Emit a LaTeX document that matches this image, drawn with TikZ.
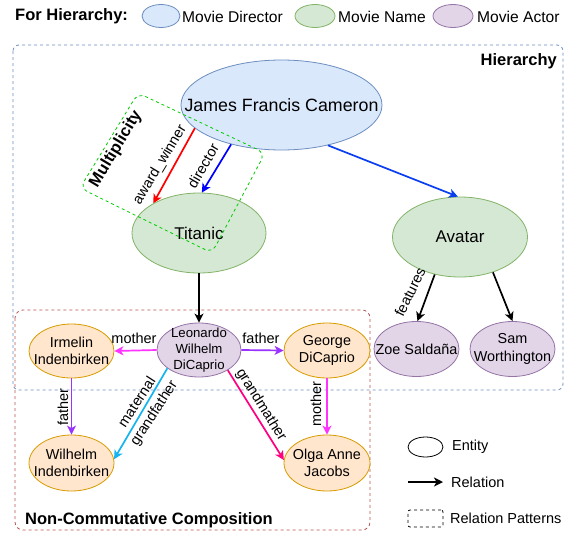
\documentclass[tikz,border=0pt]{standalone}
\usepackage{fontspec}
\setmainfont{Liberation Sans}
\usetikzlibrary{shapes.geometric,arrows.meta}
\definecolor{dirfill}{HTML}{DAE8FC}
\definecolor{dirline}{HTML}{6C8EBF}
\definecolor{movfill}{HTML}{D5E8D4}
\definecolor{movline}{HTML}{82B366}
\definecolor{actfill}{HTML}{E1D5E7}
\definecolor{actline}{HTML}{9673A6}
\definecolor{perfill}{HTML}{FFE6CC}
\definecolor{perline}{HTML}{D79B00}
\definecolor{hierline}{HTML}{6C8EBF}
\definecolor{ncline}{HTML}{B85450}
\definecolor{multline}{HTML}{00CC00}
\definecolor{redarr}{HTML}{FF0000}
\definecolor{dirblue}{HTML}{0000FF}
\definecolor{avblue}{HTML}{0A3FF0}
\definecolor{magarr}{HTML}{FF33FF}
\definecolor{purparr}{HTML}{9933FF}
\definecolor{cyanarr}{HTML}{14B4F0}
\definecolor{pinkarr}{HTML}{FF0080}
\begin{document}
\begin{tikzpicture}[x=1pt,y=-1pt,
  ent/.style={ellipse,inner sep=0pt,line width=0.8pt},
  director/.style={ent,fill=dirfill,draw=dirline},
  movie/.style={ent,fill=movfill,draw=movline},
  actor/.style={ent,fill=actfill,draw=actline},
  person/.style={ent,fill=perfill,draw=perline},
  rel/.style={line width=1.7pt,-{Stealth[length=9pt,width=9pt,inset=2.5pt]}},
  lbl/.style={inner sep=0pt,font=\fontsize{14.5}{17}\selectfont},
  leg/.style={inner sep=0pt,font=\fontsize{15.6}{18}\selectfont,anchor=west},
  ttl/.style={inner sep=0pt,font=\bfseries\fontsize{16.5}{19}\selectfont},
  patt/.style={dash pattern=on 3pt off 3pt,line width=0.8pt},
]
\useasboundingbox (0,0) rectangle (576,533);

% pattern boxes
\draw[patt,hierline,rounded corners=6pt] (13,45) rectangle (563,390);
\draw[patt,ncline,rounded corners=8pt] (15,310) rectangle (370,530);
\node[ttl,anchor=east] (hiertitle) at (557,61) {Hierarchy};
\node[ttl,anchor=west] (nctitle) at (25,520.5) {Non-Commutative Composition};

% top legend
\node[ttl,anchor=west] (forh) at (15,16.5) {For Hierarchy:};
\node[director,minimum width=38pt,minimum height=23pt] (legdir) at (161,16) {};
\node[leg] (legdirt) at (182,16.5) {Movie Director};
\node[movie,minimum width=40pt,minimum height=23pt] (legmov) at (315,16) {};
\node[leg] (legmovt) at (338,16.5) {Movie Name};
\node[actor,minimum width=40pt,minimum height=23pt] (legact) at (453,16) {};
\node[leg] (legactt) at (477,16.5) {Movie Actor};

% entities
\node[director,minimum width=201pt,minimum height=90pt,
  label={[inner sep=0pt,font=\fontsize{17.8}{20}\selectfont]center:James Francis Cameron}] (james) at (281.5,105) {};
\node[movie,minimum width=134pt,minimum height=80pt,
  label={[inner sep=0pt,font=\fontsize{17}{20}\selectfont]center:Titanic}] (titanic) at (199,233) {};
\node[movie,minimum width=135pt,minimum height=80pt,
  label={[inner sep=0pt,font=\fontsize{17}{20}\selectfont]center:Avatar}] (avatar) at (460,237) {};
\node[actor,minimum width=85pt,minimum height=55pt,
  label={[inner sep=0pt,font=\fontsize{14.4}{17}\selectfont]center:Zoe Saldaña}] (zoe) at (416.5,349) {};
\node[actor,minimum width=85pt,minimum height=55pt,
  label={[inner sep=0pt,align=center,font=\fontsize{14.4}{18}\selectfont]center:{Sam\\Worthington}}] (sam) at (512.5,349) {};
\node[actor,minimum width=84pt,minimum height=54pt,
  label={[inner sep=0pt,align=center,font=\fontsize{13.2}{16}\selectfont]center:{Leonardo\\Wilhelm\\DiCaprio}}] (leo) at (199,350) {};
\node[person,minimum width=85pt,minimum height=54pt,
  label={[inner sep=0pt,align=center,font=\fontsize{14.4}{17.5}\selectfont]center:{Irmelin\\Indenbirken}}] (irm) at (71.5,351) {};
\node[person,minimum width=86pt,minimum height=55pt,
  label={[inner sep=0pt,align=center,font=\fontsize{14.4}{17.5}\selectfont]center:{George\\DiCaprio}}] (george) at (327,350.5) {};
\node[person,minimum width=85pt,minimum height=56pt,
  label={[inner sep=0pt,align=center,font=\fontsize{14.4}{17.5}\selectfont]center:{Wilhelm\\Indenbirken}}] (wil) at (71.5,463) {};
\node[person,minimum width=86pt,minimum height=56pt,
  label={[inner sep=0pt,align=center,font=\fontsize{14.4}{17.5}\selectfont]center:{Olga Anne\\Jacobs}}] (olga) at (327,463) {};

% relations
\draw[rel,redarr] (james.195) -- (titanic.147);
\draw[rel,dirblue] (james.218) -- (titanic.86);
\draw[rel,avblue] (james.-41) -- (avatar.93);
\draw[rel,black] (titanic.south) -- (leo.north);
\draw[rel,black] (avatar.236) -- (zoe.88);
\draw[rel,black] (avatar.313) -- (sam.north);
\draw[rel,magarr] (leo.west) -- (irm.east);
\draw[rel,purparr] (leo.east) -- (george.west);
\draw[rel,purparr] (irm.south) -- (wil.north);
\draw[rel,cyanarr] (leo.210) -- (wil.5);
\draw[rel,pinkarr] (leo.-35) -- (olga.176);
\draw[rel,magarr] (george.south) -- (olga.north);

% relation labels
\node[lbl,rotate=59] (lawd) at (160,165) {award\_winner};
\node[lbl,rotate=60] (ldir) at (203,166) {director};
\node[lbl,rotate=64] (lfeat) at (410,292) {features};
\node[lbl] (lmoth) at (134,338) {mother};
\node[lbl] (lfath) at (261,338) {father};
\node[lbl,rotate=90] (lfath2) at (63,407) {father};
\node[lbl,rotate=90] (lmoth2) at (316,404) {mother};
\node[lbl,rotate=57,align=center,font=\fontsize{14.5}{20}\selectfont] (lmat) at (146,408) {maternal\\grandfather};
\node[lbl,rotate=-58] (lgm) at (261,405) {grandmather};

% multiplicity pattern
\draw[patt,multline,rounded corners=8pt] (138,93) -- (265,153) -- (212,253) -- (80,188) -- cycle;
\node[ttl,rotate=59] (mult) at (116,149) {Multiplicity};

% bottom legend
\node[ent,draw=black,minimum width=35pt,minimum height=20pt] (legent) at (425.5,447) {};
\node[lbl,anchor=west] (legentt) at (452,447) {Entity};
\coordinate (lra) at (408,482);
\coordinate (lrb) at (443,482);
\draw[rel,black] (lra) -- (lrb);
\node[lbl,anchor=west] (legrelt) at (451,482) {Relation};
\node[draw=black,patt,rounded corners=2pt,minimum width=35pt,minimum height=17pt,inner sep=0pt] (legpat) at (425.5,518.5) {};
\node[lbl,anchor=west] (legpatt) at (450,518.5) {Relation Patterns};
\end{tikzpicture}
\end{document}
